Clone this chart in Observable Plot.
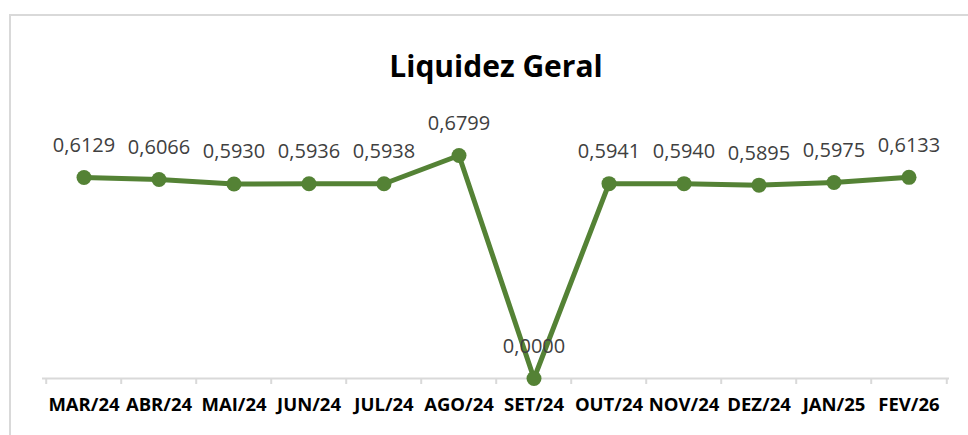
<!DOCTYPE html>
<html>
<head>
<meta charset="utf-8">
<script src="https://cdn.jsdelivr.net/npm/d3@7"></script>
<script src="https://cdn.jsdelivr.net/npm/@observablehq/plot@0.6"></script>
<style>
  body { margin: 0; background: #fff; }
  #wrap { position: relative; width: 968px; height: 435px; overflow: hidden; }
  #border { position: absolute; left: 9px; top: 14px; width: 1000px; height: 500px; border: 2px solid #d9d9d9; box-sizing: border-box; }
  #chart { position: absolute; left: 0; top: 0; }
</style>
</head>
<body>
<div id="wrap"><div id="border"></div><div id="chart"></div></div>
<script>
const title = "Liquidez Geral";
const months = ["MAR/24","ABR/24","MAI/24","JUN/24","JUL/24","AGO/24","SET/24","OUT/24","NOV/24","DEZ/24","JAN/25","FEV/26"];
const values = [0.6129, 0.6066, 0.5930, 0.5936, 0.5938, 0.6799, 0.0000, 0.5941, 0.5940, 0.5895, 0.5975, 0.6133];

const data = months.map((m, i) => ({month: m, value: values[i]}));
const fmt = v => v.toFixed(4).replace(".", ",");

const W = 968, H = 435, mL = 42, mR = 19;
const step = (W - mL - mR) / months.length;
const green = "#548235";

const chart = Plot.plot({
  width: W,
  height: H,
  marginLeft: mL,
  marginRight: mR,
  marginTop: 115.6,
  marginBottom: 57,
  style: {fontFamily: "'Open Sans', sans-serif", background: "transparent"},
  x: {type: "band", domain: months, padding: 0, label: null},
  y: {domain: [0, 0.8], axis: null},
  marks: [
    Plot.ruleY([0], {stroke: "#d9d9d9", strokeWidth: 2}),
    Plot.axisX({ticks: months, tickSize: 6, tickFormat: null, stroke: "#d9d9d9", strokeWidth: 2, dx: -step / 2}),
    Plot.axisX({ticks: [months[months.length - 1]], tickSize: 6, tickFormat: null, stroke: "#d9d9d9", strokeWidth: 2, dx: step / 2}),
    Plot.axisX({tickSize: 0, tickPadding: 19, fontSize: 18.5, fontWeight: "bold", fill: "#000"}),
    Plot.line(data, {x: "month", y: "value", stroke: green, strokeWidth: 5}),
    Plot.dot(data, {x: "month", y: "value", r: 7.5, fill: green, stroke: "none"}),
    Plot.text(data, {x: "month", y: "value", text: d => fmt(d.value), dy: -32, fontSize: 20, fill: "#404040"}),
    Plot.text([title], {frameAnchor: "top", dy: -60, fontSize: 30, fontWeight: "bold", fill: "#000"})
  ]
});
document.getElementById("chart").appendChild(chart);
</script>
</body>
</html>
